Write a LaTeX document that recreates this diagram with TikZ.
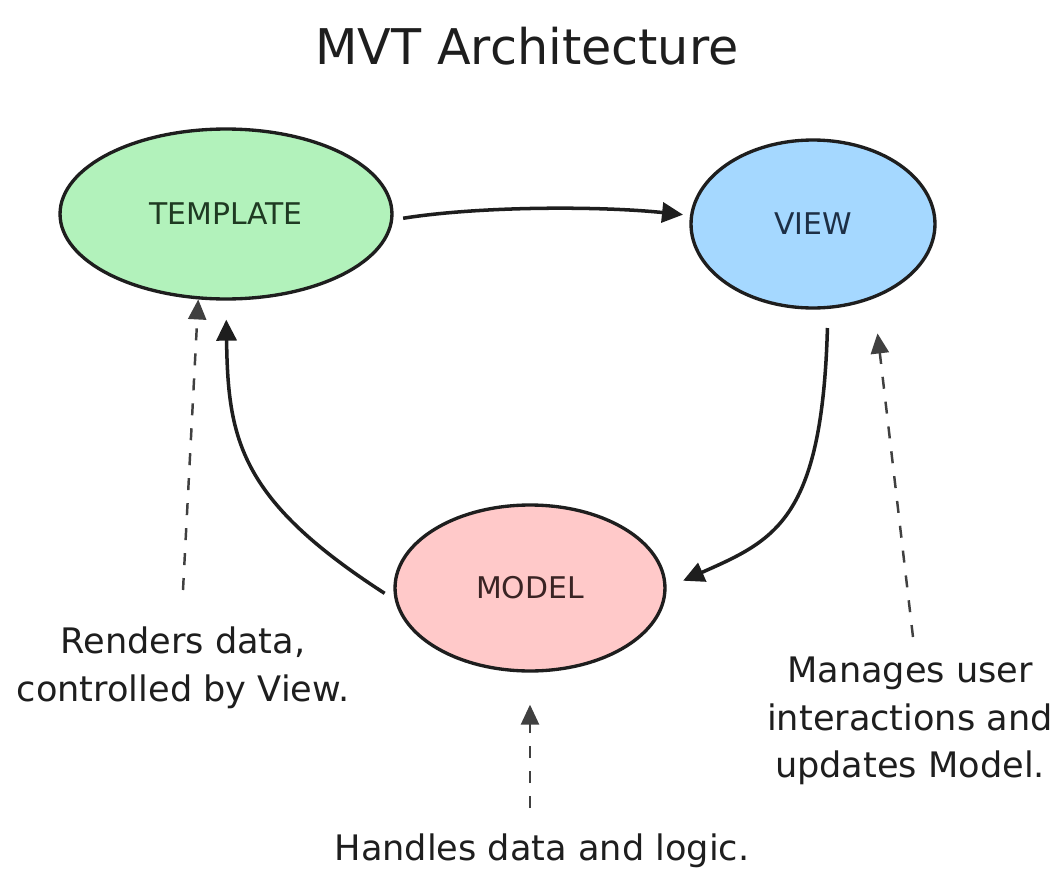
\documentclass[tikz,border=0pt]{standalone}
\usepackage{fontspec}
\setmainfont{DejaVu Sans}
\usetikzlibrary{shapes.geometric,arrows.meta}
\definecolor{ink}{HTML}{1E1E1E}
\definecolor{tgreen}{HTML}{B2F2BB}
\definecolor{vblue}{HTML}{A5D8FF}
\definecolor{mpink}{HTML}{FFC9C9}
\definecolor{tgtext}{HTML}{1F3A22}
\definecolor{vbtext}{HTML}{1D2F45}
\definecolor{mptext}{HTML}{3A2424}
\begin{document}
\begin{tikzpicture}[x=0.02cm,y=-0.02cm,
  blob/.style={ellipse, draw=ink, line width=1.9pt, inner sep=0pt,
    font=\fontsize{17}{20}\selectfont},
  flow/.style={line width=2pt, draw=ink, -{Triangle[length=0.42cm,width=0.4cm]}},
  hint/.style={line width=1.4pt, draw=ink!85, dash pattern=on 0.24cm off 0.26cm,
    -{Triangle[length=0.4cm,width=0.36cm]}},
  note/.style={align=center, font=\fontsize{20}{27}\selectfont, text=ink}]
\useasboundingbox (0,0) rectangle (1063,876);
\fill[white] (0,0) rectangle (1063,876);

\node[font=\fontsize{28}{32}\selectfont, text=ink] (title) at (527,46) {MVT Architecture};

\node[blob, fill=tgreen, text=tgtext, minimum width=6.64cm, minimum height=3.4cm] (T) at (226,214) {TEMPLATE};
\node[blob, fill=vblue, text=vbtext, minimum width=4.88cm, minimum height=3.36cm] (V) at (813,224) {VIEW};
\node[blob, fill=mpink, text=mptext, minimum width=5.4cm, minimum height=3.32cm] (M) at (530,588) {MODEL};

\node[note] (R) at (183,668) {Renders data,\\controlled by View.};
\node[note] (U) at (910,721) {Manages user\\interactions and\\updates Model.};
\node[note] (H) at (542,851) {Handles data and logic.};

\coordinate (h1) at (183,590);
\coordinate (h2) at (913,637);
\coordinate (h3) at (530,808);

\draw[flow, shorten <=0.2cm, shorten >=0.14cm] (T.-2) .. controls (480,206) and (600,206) .. (V.176);
\draw[flow, shorten <=0.38cm, shorten >=0.36cm] (V.-80) .. controls (822,520) and (775,540) .. (M.east);
\draw[flow, shorten <=0.24cm, shorten >=0.38cm] (M.185) .. controls (240,500) and (228,440) .. (T.south);

\draw[hint] (h1) -- (T.-108);
\draw[hint, shorten >=0.7cm] (h2) -- (V.-51);
\draw[hint, shorten >=0.64cm] (h3) -- (M.south);
\end{tikzpicture}
\end{document}
